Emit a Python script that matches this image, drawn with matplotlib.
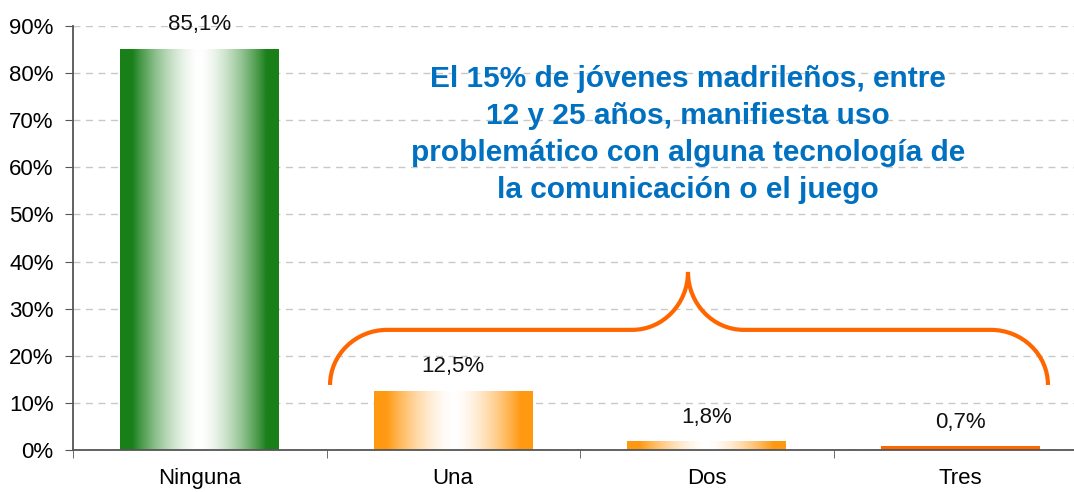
import numpy as np
import matplotlib
matplotlib.use("Agg")
import matplotlib.pyplot as plt
from matplotlib.path import Path
from matplotlib.patches import PathPatch
from matplotlib.colors import to_rgb

categories = ["Ninguna", "Una", "Dos", "Tres"]
values = [85.1, 12.5, 1.8, 0.7]
value_labels = ["85,1%", "12,5%", "1,8%", "0,7%"]
bar_colors = ["#1a801a", "#ff9912", "#ff9912", "#ff6600"]
gradient = [True, True, True, False]
yticks = [0, 10, 20, 30, 40, 50, 60, 70, 80, 90]
note = ("El 15% de jóvenes madrileños, entre\n12 y 25 años, manifiesta uso\n"
        "problemático con alguna tecnología de\nla comunicación o el juego")

plt.rcParams['font.family'] = ['Liberation Sans', 'DejaVu Sans']

fig = plt.figure(figsize=(10.74, 4.92), dpi=100)
ax = fig.add_axes([73/1074, 42/492, 1014/1074, 424/492])

x = np.arange(len(categories))
width = 0.627
bars = ax.bar(x, values, width=width, color="none", zorder=3)

# horizontal gradient: coloured edges, white middle
t = np.linspace(0, 1, 200)
prof = np.clip(np.abs(t - 0.5) * 2 / 0.85, 0, 1) ** 1.6
for b, c, g in zip(bars, bar_colors, gradient):
    c = np.array(to_rgb(c))
    if g:
        img = 1 - prof[:, None] * (1 - c[None, :])
    else:
        img = np.tile(c, (200, 1))
    x0, y0 = b.get_x(), b.get_y()
    ax.imshow(img[None, :, :], extent=[x0, x0 + b.get_width(), y0, y0 + b.get_height()],
              aspect="auto", zorder=3, interpolation="bilinear")

for xi, v, lab in zip(x, values, value_labels):
    ax.annotate(lab, (xi, v), xytext=(0, 10), textcoords="offset points",
                ha="center", va="bottom", fontsize=16, color="#111111")

ax.set_xlim(-0.5, len(categories) - 0.5)
ax.set_ylim(0, 90)
ax.set_yticks(yticks)
ax.set_yticklabels([f"{v}%" for v in yticks], fontsize=16)
ax.set_xticks(x)
ax.set_xticklabels(categories, fontsize=16)
ax.tick_params(axis="x", length=0, pad=13)
ax.set_xticks(np.arange(len(categories) + 1) - 0.5, minor=True)
ax.tick_params(axis="x", which="minor", length=6, color="#555555", direction="out")
ax.tick_params(axis="y", length=6, color="#555555", direction="out", pad=8)
ax.yaxis.grid(True, linestyle=(0, (5, 4)), color="#c8c8c8", linewidth=1)
ax.set_axisbelow(True)
for s in ["top", "right"]:
    ax.spines[s].set_visible(False)
for s in ["left", "bottom"]:
    ax.spines[s].set_color("#555555")
    ax.spines[s].set_linewidth(1.3)
    ax.spines[s].set_zorder(4)

# curly brace over "Una", "Dos", "Tres"
bx0, bx1, bmid = 0.514, 3.346, 1.926
ytip, yflat, ypeak = 13.8, 25.5, 37.8
rx, ry = 0.225, 11.7
px, py = 0.22, 12.3
verts = [
    (bx0, ytip), (bx0, ytip + ry * 0.55), (bx0 + rx * 0.45, yflat), (bx0 + rx, yflat),
    (bmid - px, yflat),
    (bmid - px * 0.45, yflat), (bmid, yflat + py * 0.45), (bmid, ypeak),
    (bmid, yflat + py * 0.45), (bmid + px * 0.45, yflat), (bmid + px, yflat),
    (bx1 - rx, yflat),
    (bx1 - rx * 0.45, yflat), (bx1, ytip + ry * 0.55), (bx1, ytip),
]
codes = [Path.MOVETO, Path.CURVE4, Path.CURVE4, Path.CURVE4, Path.LINETO,
         Path.CURVE4, Path.CURVE4, Path.CURVE4,
         Path.CURVE4, Path.CURVE4, Path.CURVE4, Path.LINETO,
         Path.CURVE4, Path.CURVE4, Path.CURVE4]
ax.add_patch(PathPatch(Path(verts, codes), fill=False, edgecolor="#ff6600",
                       linewidth=3, capstyle="butt", zorder=5, clip_on=False))

ax.text(bmid, 66.9, note, ha="center", va="center", fontsize=21.5,
        fontweight="bold", color="#0070c0", linespacing=1.41, zorder=6)

fig.savefig("out.png", dpi=100)
